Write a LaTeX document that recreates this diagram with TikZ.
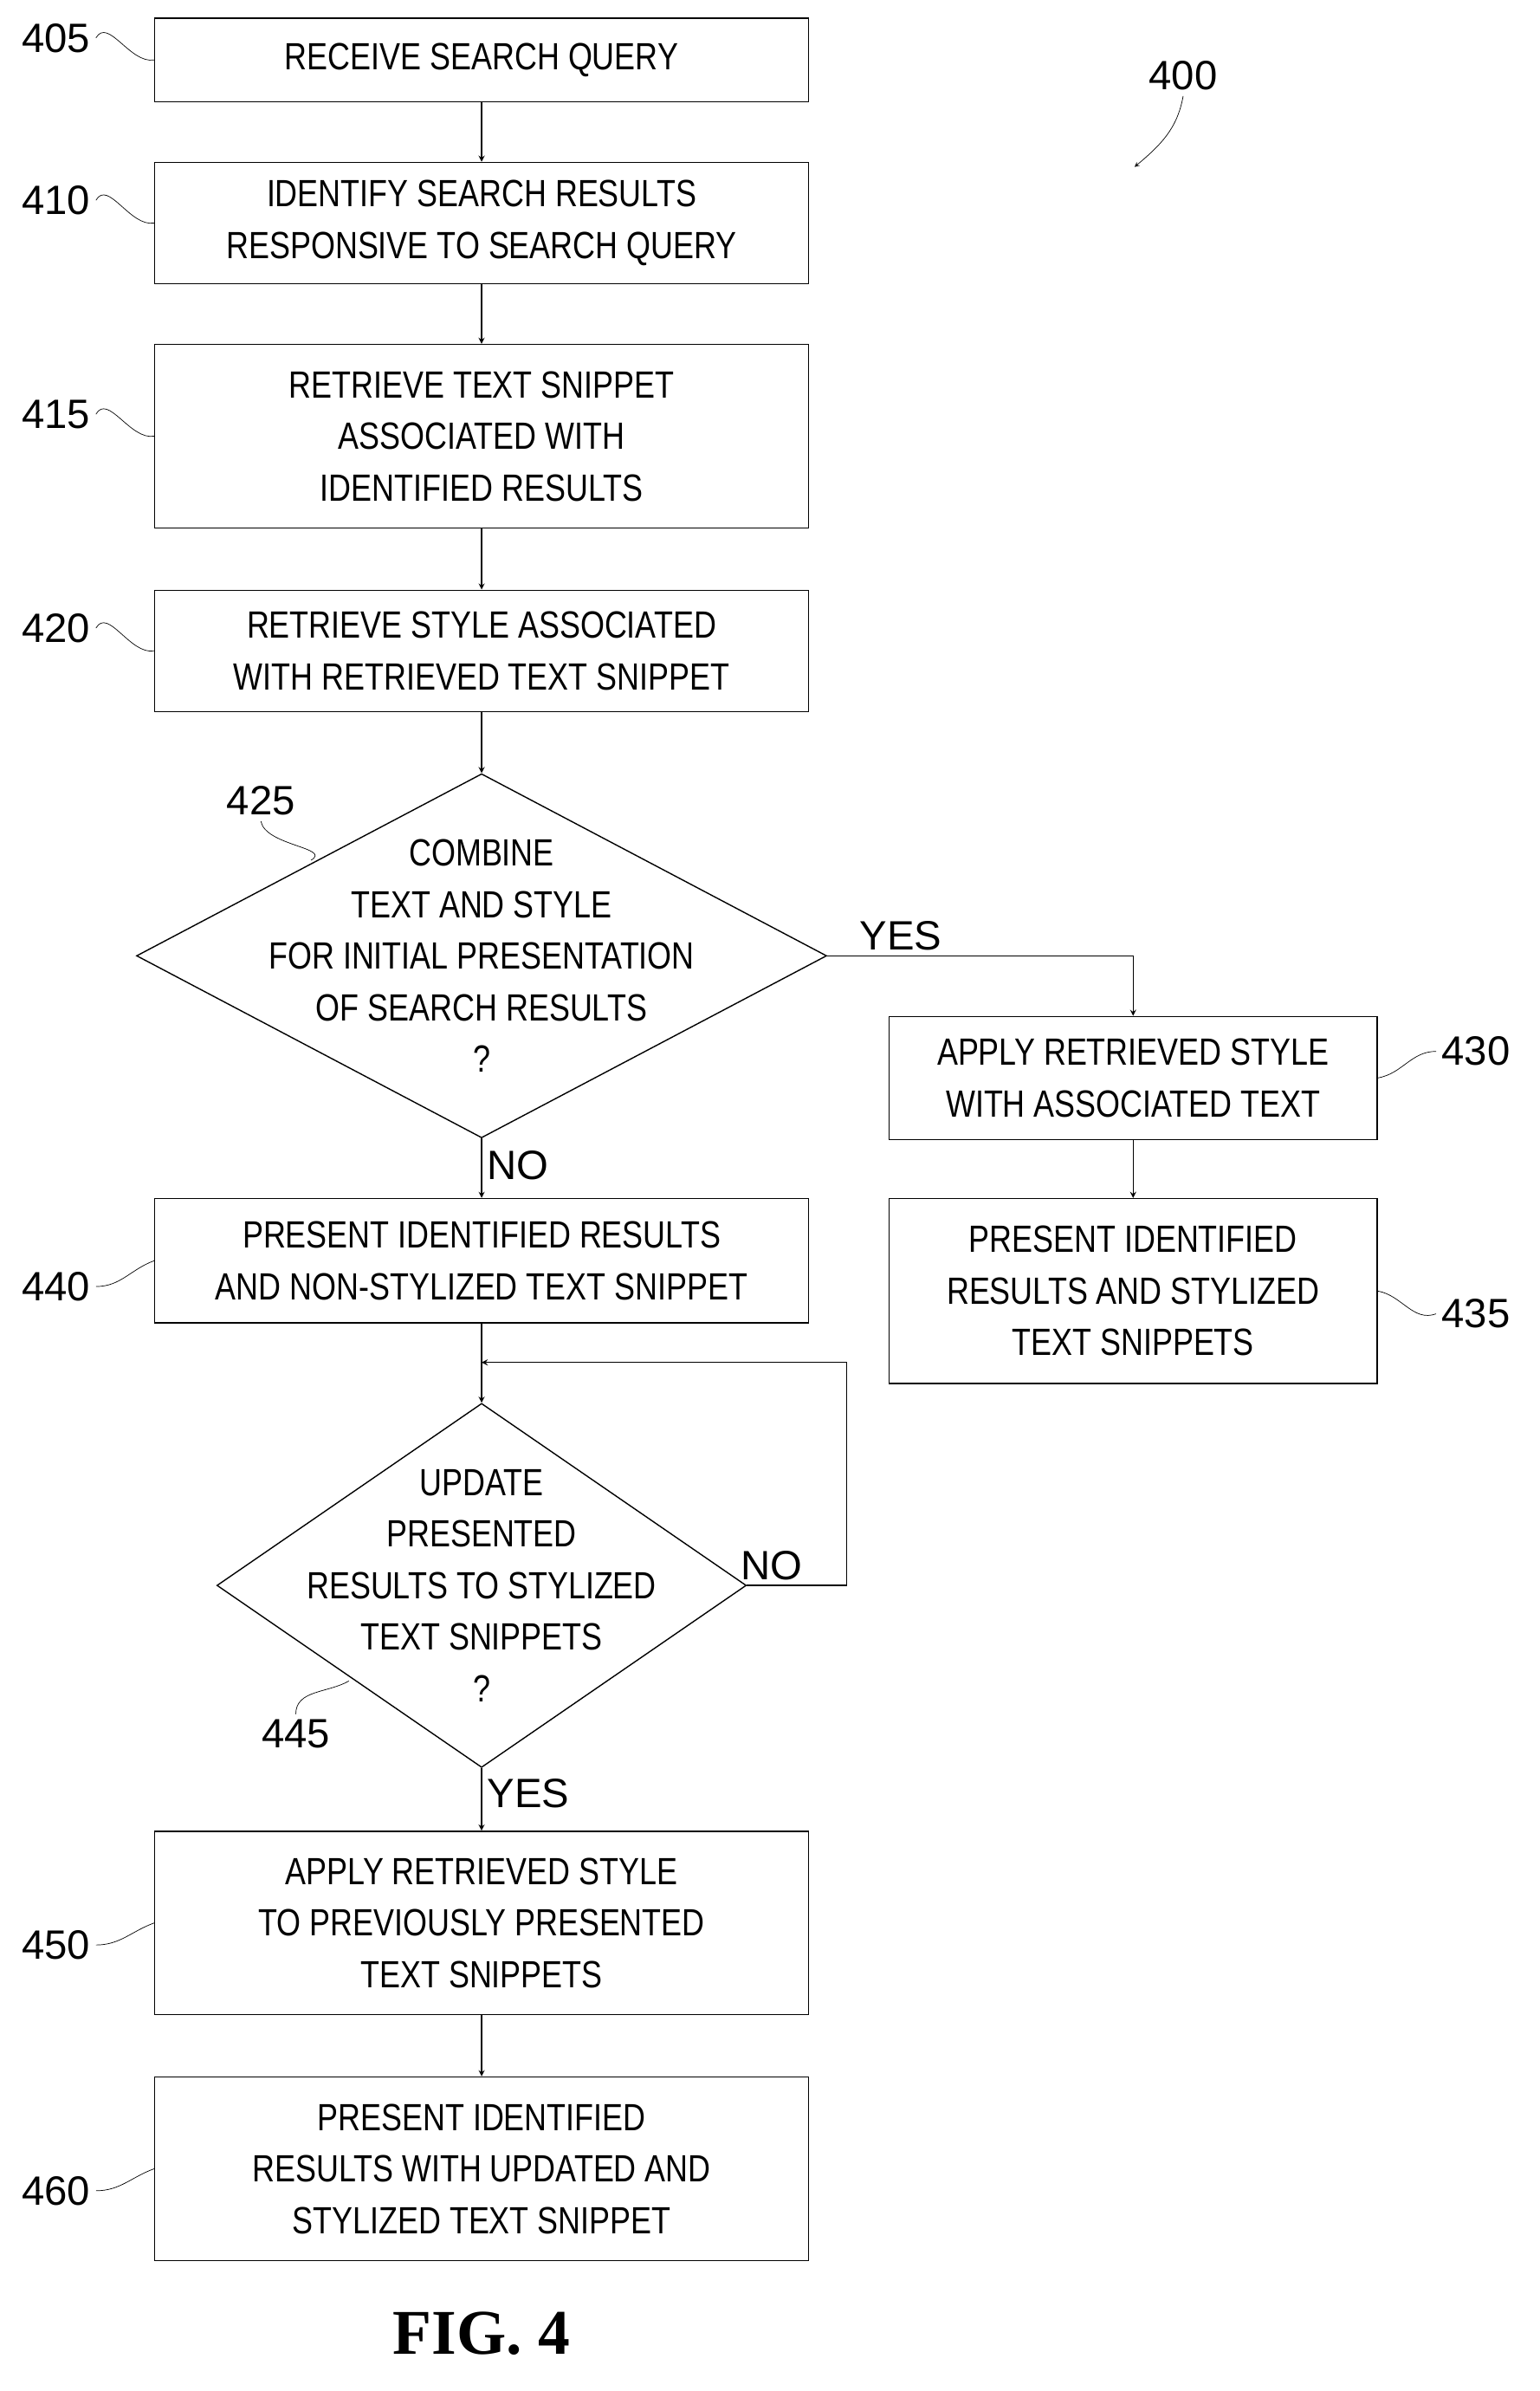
\documentclass[tikz,border=0pt]{standalone}
\usepackage{fontspec}
\setsansfont{Liberation Sans}[FakeStretch=0.82]
\setmainfont{Liberation Serif}
\usetikzlibrary{positioning, shapes.geometric, arrows}
\tikzset{
  procbox/.style={draw, thick, rectangle, minimum width=431pt, align=center, font=\sffamily\fontsize{25}{34}\selectfont},
  decision/.style={draw, thick, diamond, inner sep=0pt},
  dtext/.style={align=center, font=\sffamily\fontsize{25}{34}\selectfont},
  ref/.style={font=\fontspec{Liberation Sans}\fontsize{27}{30}\selectfont},
  flow/.style={thick, ->, >=stealth},
  lead/.style={thin, out=60, in=190}
}
\begin{document}
\begin{tikzpicture}[x=1pt, y=-1pt, thick]
        \useasboundingbox (0,0) rectangle (1015,1576);

        % Boxes
        \node[procbox, minimum height=55pt] (s405) at (317.5,39.5) {RECEIVE SEARCH QUERY};
        \node[procbox, minimum height=80pt] (s410) at (317.5,147) {IDENTIFY SEARCH RESULTS\\RESPONSIVE TO SEARCH QUERY};
        \node[procbox, minimum height=121pt] (s415) at (317.5,287.5) {RETRIEVE TEXT SNIPPET\\ASSOCIATED WITH\\IDENTIFIED RESULTS};
        \node[procbox, minimum height=80pt] (s420) at (317.5,429) {RETRIEVE STYLE ASSOCIATED\\WITH RETRIEVED TEXT SNIPPET};

        % Decision 425
        \node[decision, minimum width=455pt, minimum height=240pt] (d425) at (317.5,630) {};
        \node[dtext] (t425) at (d425) {COMBINE\\TEXT AND STYLE\\FOR INITIAL PRESENTATION\\OF SEARCH RESULTS\\?};

        \node[procbox, minimum width=322pt, minimum height=81pt] (s430) at (747,710.5) {APPLY RETRIEVED STYLE\\WITH ASSOCIATED TEXT};
        \node[procbox, minimum width=322pt, minimum height=122pt] (s435) at (747,851) {PRESENT IDENTIFIED\\RESULTS AND STYLIZED\\TEXT SNIPPETS};
        \node[procbox, minimum height=82pt] (s440) at (317.5,831) {PRESENT IDENTIFIED RESULTS\\AND NON-STYLIZED TEXT SNIPPET};

        % Decision 445
        \node[decision, minimum width=349pt, minimum height=240pt] (d445) at (317.5,1045) {};
        \node[dtext] (t445) at (d445) {UPDATE\\PRESENTED\\RESULTS TO STYLIZED\\TEXT SNIPPETS\\?};

        \node[procbox, minimum height=121pt] (s450) at (317.5,1267.5) {APPLY RETRIEVED STYLE\\TO PREVIOUSLY PRESENTED\\TEXT SNIPPETS};
        \node[procbox, minimum height=121pt] (s460) at (317.5,1429.5) {PRESENT IDENTIFIED\\RESULTS WITH UPDATED AND\\STYLIZED TEXT SNIPPET};

        % Arrows
        \draw[flow] (s405) -- (s410);
        \draw[flow] (s410) -- (s415);
        \draw[flow] (s415) -- (s420);
        \draw[flow] (s420) -- (d425);
        \draw[flow] (d425.east) -| node[pos=0.12, above, ref] {YES} (s430.north);
        \draw[flow] (s430) -- (s435);
        \draw[flow] (d425.south) -- node[pos=0.45, right, ref] {NO} (s440.north);
        \draw[flow] (s440) -- (d445);
        \coordinate (join) at (317.5,898);
        \coordinate (loop) at (558,898);
        \draw[flow] (d445.east) -- node[above, ref, pos=0.25] {NO} (558,1045) -- (loop) -- (join);
        \draw[flow] (d445.south) -- node[pos=0.4, right, ref] {YES} (s450.north);
        \draw[flow] (s450) -- (s460);

        % Reference numerals
        \node[ref] (n405) at (37,25) {405};
        \node[ref] (n410) at (37,132) {410};
        \node[ref] (n415) at (37,273) {415};
        \node[ref] (n420) at (37,414) {420};
        \node[ref] (n440) at (37,848) {440};
        \node[ref] (n450) at (37,1282) {450};
        \node[ref] (n460) at (37,1444) {460};
        \draw[lead] (n405.east) to (s405.west);
        \draw[lead] (n410.east) to (s410.west);
        \draw[lead] (n415.east) to (s415.west);
        \draw[lead] (n420.east) to (s420.west);
        \draw[thin] (n440.east) to[out=0, in=200] (s440.west);
        \draw[thin] (n450.east) to[out=0, in=200] (s450.west);
        \draw[thin] (n460.east) to[out=0, in=200] (s460.west);
        \node[ref] (n425) at (172,528) {425};
        \draw[thin] (n425.south) to[out=-80, in=30] (205,567);
        \node[ref] (n430) at (973,693) {430};
        \draw[thin] (n430.west) to[out=180, in=10] (s430.east);
        \node[ref] (n435) at (973,866) {435};
        \draw[thin] (n435.west) to[out=200, in=-10] (s435.east);
        \node[ref] (n445) at (195,1143) {445};
        \draw[thin] (n445.north) to[out=90, in=210] (230,1108);
        \node[ref] (n400) at (780,50) {400};
        \coordinate (p400) at (748,110);
        \draw[thin, ->, >=stealth] (n400.south) to[out=-100, in=40] (p400);

        \node[font=\rmfamily\bfseries\fontsize{42}{48}\selectfont] (fig) at (317.5,1538) {FIG. 4};
\end{tikzpicture}
\end{document}
